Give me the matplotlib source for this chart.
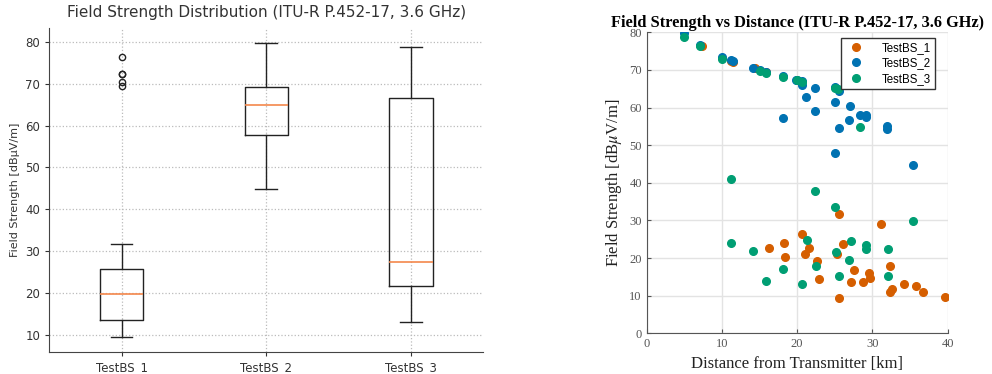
import numpy as np
import matplotlib.pyplot as plt

# distance [km] and field strength [dBuV/m] per base station
dist_bs1 = [7.3, 11.2, 11.5, 14.4, 15.9, 16.3, 18.3, 18.4, 20.7, 21.1,
            21.6, 22.6, 22.9, 25.5, 25.3, 25.6, 26.1, 27.5, 27.2, 28.7,
            29.5, 29.7, 31.1, 32.3, 32.4, 32.6, 34.2, 35.8, 36.7, 39.6]
fs_bs1 = [76.4, 72.4, 72.2, 70.4, 69.4, 22.8, 24.0, 20.4, 26.4, 21.0,
          22.7, 19.3, 14.4, 9.5, 21.1, 31.6, 23.7, 16.7, 13.6, 13.6,
          16.0, 14.8, 29.1, 18.0, 11.0, 11.7, 13.0, 12.6, 11.0, 9.6]

dist_bs2 = [5.0, 7.1, 10.0, 11.2, 14.1, 15.0, 15.8, 18.1, 19.9, 20.0,
            20.6, 20.6, 22.4, 21.2, 22.4, 18.1, 25.0, 25.5, 25.0, 25.5,
            25.0, 27.0, 26.9, 28.4, 29.2, 29.2, 32.0, 32.0, 35.4, 11.5]
fs_bs2 = [79.7, 76.5, 73.4, 72.6, 70.4, 70.0, 69.5, 68.3, 67.2, 67.4,
          67.0, 65.9, 65.2, 62.7, 59.0, 57.1, 65.5, 64.5, 61.6, 54.6,
          48.0, 60.5, 56.7, 58.1, 58.1, 57.5, 55.1, 54.4, 44.8, 72.3]

dist_bs3 = [5.0, 7.1, 10.0, 11.2, 11.2, 14.1, 15.0, 15.8, 15.9, 18.1,
            18.1, 20.0, 20.6, 20.7, 21.3, 22.4, 22.5, 25.0, 25.4, 25.0,
            25.1, 25.6, 26.9, 27.1, 28.4, 29.2, 29.2, 32.1, 32.1, 35.4]
fs_bs3 = [78.7, 76.3, 73.0, 40.9, 24.0, 22.0, 69.7, 69.1, 14.0, 68.0,
          17.2, 67.2, 66.9, 13.1, 24.7, 37.9, 18.0, 65.2, 65.0, 33.7,
          21.6, 15.2, 19.5, 24.5, 54.8, 23.5, 22.3, 22.4, 15.2, 29.9]

names = ['TestBS_1', 'TestBS_2', 'TestBS_3']
colors = ['#D55E00', '#0072B2', '#009E73']

plt.rcParams['mathtext.fontset'] = 'stix'
fig = plt.figure(figsize=(9.92, 3.74), dpi=100)

# --- box plot ---
ax1 = fig.add_axes([0.0497, 0.0596, 0.4375, 0.8647])
txt = '#333333'
ax1.boxplot([fs_bs1, fs_bs2, fs_bs3], widths=0.3,
            boxprops=dict(color='#222222', linewidth=1.0),
            whiskerprops=dict(color='#222222', linewidth=1.0),
            capprops=dict(color='#222222', linewidth=1.0),
            medianprops=dict(color='#f4874b', linewidth=1.2),
            flierprops=dict(marker='o', markersize=4.5, markerfacecolor='none',
                            markeredgecolor='#222222', markeredgewidth=1.0))
ax1.set_xticks([1, 2, 3])
ax1.set_xticklabels(names)
ax1.set_title('Field Strength Distribution (ITU-R P.452-17, 3.6 GHz)',
              fontsize=11, color=txt, pad=8)
ax1.set_ylabel('Field Strength [dBµV/m]', fontsize=8, color=txt)
ax1.grid(True, linestyle=':', color='#bbbbbb', linewidth=0.9)
for s in ['top', 'right']:
    ax1.spines[s].set_visible(False)
for s in ['left', 'bottom']:
    ax1.spines[s].set_color('#444444')
ax1.tick_params(labelsize=8.5, colors=txt, length=3)

# --- scatter vs distance ---
ax2 = fig.add_axes([0.6519, 0.1088, 0.3034, 0.8048])
for d, f, n, c in zip([dist_bs1, dist_bs2, dist_bs3],
                      [fs_bs1, fs_bs2, fs_bs3], names, colors):
    ax2.plot(d, f, 'o', color=c, markersize=5.5, label=n)
ax2.set_xlim(0, 40)
ax2.set_ylim(0, 80)
ax2.set_xticks(np.arange(0, 41, 10))
ax2.set_yticks(np.arange(0, 81, 10))
ax2.grid(True, color='#e3e3e3', linewidth=1.0)
ax2.set_axisbelow(True)
for s in ['top', 'right']:
    ax2.spines[s].set_visible(False)
for s in ['left', 'bottom']:
    ax2.spines[s].set_color('#555555')
ax2.tick_params(direction='in', length=3, labelsize=9, colors='#555555',
                labelfontfamily='Liberation Serif')
ax2.set_title('Field Strength vs Distance (ITU-R P.452-17, 3.6 GHz)',
              fontsize=11.8, fontweight='bold', family='Liberation Serif', pad=4)
ax2.set_xlabel('Distance from Transmitter [km]', fontsize=12,
               family='Liberation Serif', color='#222222')
ax2.set_ylabel(r'Field Strength [dB$\mu$V/m]', fontsize=12,
               family='Liberation Serif', color='#222222')
leg = ax2.legend(loc='upper right', bbox_to_anchor=(0.965, 0.99),
                 prop={'family': 'Liberation Sans', 'size': 8.3},
                 fancybox=False, framealpha=1, edgecolor='#333333',
                 borderpad=0.35, labelspacing=0.3, handletextpad=1.2,
                 borderaxespad=0.2)
leg.get_frame().set_linewidth(1.0)

fig.savefig('out.png', dpi=100)
